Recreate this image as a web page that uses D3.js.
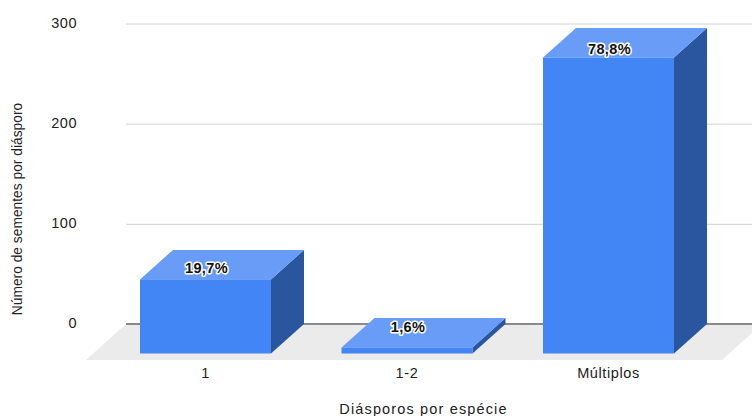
<!DOCTYPE html>
<html>
<head>
<meta charset="utf-8">
<script src="https://cdn.jsdelivr.net/npm/d3@7"></script>
<style>
  body { margin: 0; background: #fff; }
  svg { display: block; }
  text { font-family: "Liberation Sans", Arial, sans-serif; fill: #222; }
</style>
</head>
<body>
<div id="chart"></div>
<script>
// data
const categories = ['1', '1-2', 'Múltiplos'];
const values = [74, 6, 295.5];
const percentLabels = ['19,7%', '1,6%', '78,8%'];
const yTicks = [0, 100, 200, 300];
const xTitle = 'Diásporos por espécie';
const yTitle = 'Número de sementes por diásporo';

const width = 752, height = 416;

// 3d offset of the bars: back face is shifted right and up
const depthX = 33, depthY = 29.5;
// label lift above the front top edge of each bar
const labelLift = [12, 21, 8.5];

const x = d3.scaleBand()
    .domain(categories)
    .range([104.75, 709.25])
    .paddingInner(0.35)
    .paddingOuter(0.175);

const y = d3.scaleLinear()
    .domain([0, 300])
    .range([324, 23.5]);

const svg = d3.select('#chart').append('svg')
    .attr('width', width)
    .attr('height', height);

// gridlines and tick labels
const yAxis = d3.axisLeft(y)
    .tickValues(yTicks)
    .tickSize(-(width - 126))
    .tickPadding(49);

const gy = svg.append('g')
    .attr('transform', 'translate(126,0)')
    .call(yAxis);
gy.select('.domain').remove();
gy.selectAll('.tick line').attr('stroke', '#d0d0d0');
gy.selectAll('.tick text')
    .attr('font-size', 14.5)
    .attr('font-family', '"Liberation Sans", Arial, sans-serif')
    .attr('y', -1)
    .style('letter-spacing', '0.5px')
    .style('fill', '#222');

// floor
svg.append('path')
    .attr('d', 'M86,360 L126,' + y(0) + ' L762,' + y(0) + ' L722,360 Z')
    .attr('fill', '#ebebeb');

// baseline
svg.append('line')
    .attr('x1', 126).attr('x2', width)
    .attr('y1', y(0)).attr('y2', y(0))
    .attr('stroke', '#8a8a8a')
    .attr('stroke-width', 2);

// bars
const bars = svg.selectAll('.bar')
    .data(categories)
    .enter().append('g')
    .attr('class', 'bar');

const frontBottom = y(0) + depthY;

function frontTop(i) { return y(values[i]) + depthY; }

// side face
bars.append('path')
    .attr('fill', '#2a56a0')
    .attr('d', function(d, i) {
        let r = x(d) + x.bandwidth();
        return 'M' + r + ',' + frontTop(i) +
            ' l' + depthX + ',' + (-depthY) +
            ' L' + (r + depthX) + ',' + (frontBottom - depthY) +
            ' L' + r + ',' + frontBottom + ' Z';
    });

// top face
bars.append('path')
    .attr('fill', '#689cf6')
    .attr('d', function(d, i) {
        let w = x.bandwidth();
        return 'M' + x(d) + ',' + frontTop(i) +
            ' l' + depthX + ',' + (-depthY) +
            ' h' + w +
            ' l' + (-depthX) + ',' + depthY + ' Z';
    });

// front face
bars.append('rect')
    .attr('fill', '#4285f4')
    .attr('x', function(d) { return x(d); })
    .attr('y', function(d, i) { return frontTop(i); })
    .attr('width', x.bandwidth())
    .attr('height', function(d, i) { return frontBottom - frontTop(i); });

// percent labels with white halo
bars.append('text')
    .attr('x', function(d) { return x(d) + x.bandwidth() / 2 + 1; })
    .attr('y', function(d, i) { return frontTop(i) - labelLift[i]; })
    .attr('dy', '0.36em')
    .attr('text-anchor', 'middle')
    .attr('font-size', 14.5)
    .attr('font-weight', 'bold')
    .attr('stroke', '#fff')
    .attr('stroke-width', 3)
    .attr('stroke-linejoin', 'round')
    .attr('paint-order', 'stroke')
    .style('letter-spacing', '0.4px')
    .style('fill', '#111')
    .text(function(d, i) { return percentLabels[i]; });

// category labels
svg.selectAll('.cat')
    .data(categories)
    .enter().append('text')
    .attr('class', 'cat')
    .attr('x', function(d) { return x(d) + x.bandwidth() / 2; })
    .attr('y', 378)
    .attr('text-anchor', 'middle')
    .attr('font-size', 14.5)
    .style('letter-spacing', '0.6px')
    .text(function(d) { return d; });

// axis titles
svg.append('text')
    .attr('x', 423.5)
    .attr('y', 414)
    .attr('text-anchor', 'middle')
    .attr('font-size', 14.5)
    .style('letter-spacing', '1.15px')
    .text(xTitle);

svg.append('text')
    .attr('transform', 'translate(22,209) rotate(-90)')
    .attr('text-anchor', 'middle')
    .attr('font-size', 13.8)
    .text(yTitle);
</script>
</body>
</html>
